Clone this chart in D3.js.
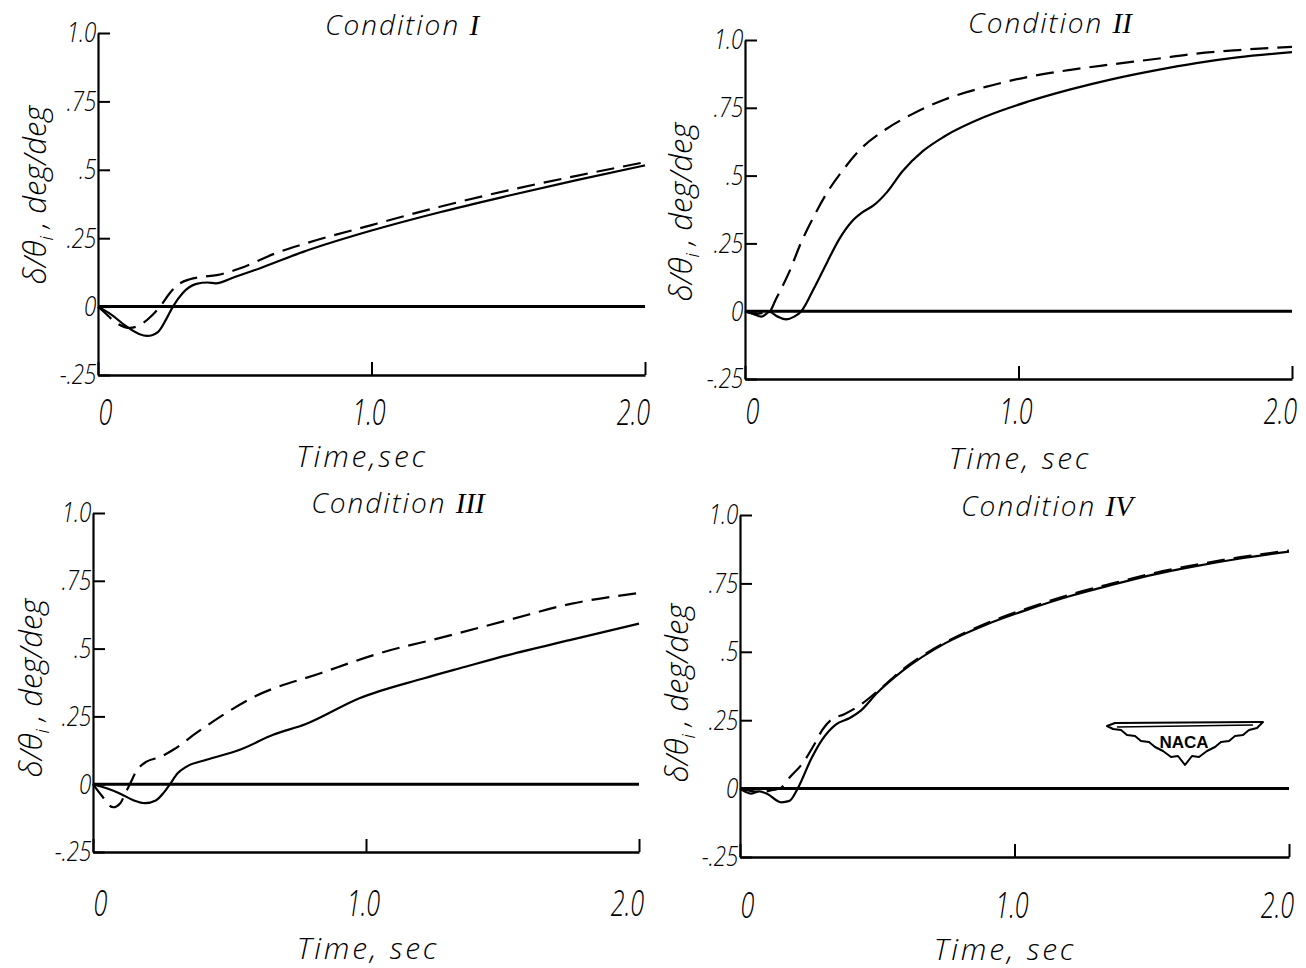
<!DOCTYPE html>
<html><head><meta charset="utf-8">
<script src="https://cdn.jsdelivr.net/npm/d3@7"></script>
<style>body{margin:0;background:#fff} svg{display:block}</style>
</head><body>
<svg id="chart" width="1306" height="968"></svg>
<script>
// ---------------- data ----------------
const xTickValues = [0, 1, 2];
const xTickLabels = ["0", "1.0", "2.0"];
const yTickValues = [1, 0.75, 0.5, 0.25, 0, -0.25];
const yTickLabels = ["1.0", ".75", ".5", ".25", "0", "-.25"];
const conditionNames = ["I", "II", "III", "IV"];
const timeLabels = ["Time,sec", "Time, sec", "Time, sec", "Time, sec"];
const yTitleMain = "δ/θ";
const yTitleSub = "i";
const yTitleRest = " , deg/deg";

// [time (sec), delta/theta_i (deg/deg)]
const cond1Solid = [[0,0],[0.05,-0.03],[0.1,-0.07],[0.15,-0.1],[0.18,-0.107],[0.22,-0.092],[0.25,-0.045],[0.274,0],[0.31,0.05],[0.36,0.083],[0.4,0.088],[0.43,0.085],[0.5,0.108],[0.6,0.143],[0.75,0.2],[1.0,0.278],[1.25,0.345],[1.5,0.405],[1.75,0.462],[2.0,0.516]];
const cond1Dashed = [[0,0],[0.02,-0.018],[0.068,-0.06],[0.117,-0.078],[0.165,-0.06],[0.2,-0.03],[0.227,0],[0.263,0.05],[0.3,0.085],[0.336,0.1],[0.373,0.108],[0.434,0.115],[0.52,0.14],[0.65,0.195],[0.75,0.228],[1.0,0.298],[1.25,0.365],[1.5,0.425],[1.75,0.478],[2.0,0.528]];
const cond2Solid = [[0,0],[0.03,-0.01],[0.06,-0.02],[0.09,-0.003],[0.12,-0.02],[0.15,-0.03],[0.18,-0.02],[0.206,0],[0.25,0.08],[0.3,0.18],[0.344,0.265],[0.39,0.33],[0.43,0.365],[0.47,0.39],[0.52,0.44],[0.575,0.515],[0.65,0.59],[0.73,0.645],[0.88,0.718],[1.035,0.773],[1.19,0.818],[1.34,0.855],[1.5,0.888],[1.65,0.915],[1.8,0.936],[2.0,0.955]];
const cond2Dashed = [[0,0],[0.04,-0.01],[0.07,-0.005],[0.09,0],[0.113,0.044],[0.161,0.143],[0.205,0.253],[0.252,0.35],[0.3,0.437],[0.358,0.52],[0.42,0.595],[0.514,0.67],[0.606,0.724],[0.728,0.78],[0.88,0.827],[1.035,0.864],[1.19,0.89],[1.34,0.91],[1.5,0.93],[1.65,0.95],[1.805,0.963],[2.0,0.975]];
const cond3Solid = [[0,0],[0.05,-0.015],[0.1,-0.035],[0.15,-0.06],[0.19,-0.07],[0.23,-0.06],[0.26,-0.03],[0.282,0],[0.31,0.04],[0.343,0.065],[0.416,0.09],[0.538,0.127],[0.66,0.182],[0.78,0.222],[0.976,0.317],[1.21,0.39],[1.36,0.432],[1.52,0.476],[1.75,0.532],[2.0,0.592]];
const cond3Dashed = [[0,0],[0.03,-0.04],[0.074,-0.085],[0.1,-0.07],[0.12,-0.03],[0.135,0],[0.16,0.05],[0.196,0.083],[0.245,0.1],[0.294,0.127],[0.38,0.19],[0.447,0.236],[0.59,0.322],[0.836,0.41],[1.05,0.483],[1.286,0.543],[1.52,0.605],[1.75,0.665],[2.0,0.705]];
const cond4Solid = [[0,0],[0.04,-0.018],[0.07,-0.01],[0.1,-0.02],[0.15,-0.05],[0.18,-0.045],[0.21,0],[0.26,0.11],[0.3,0.18],[0.35,0.235],[0.4,0.258],[0.44,0.285],[0.5,0.35],[0.592,0.43],[0.745,0.53],[0.898,0.6],[1.05,0.655],[1.2,0.703],[1.357,0.745],[1.51,0.783],[1.66,0.813],[1.817,0.84],[2.0,0.866]];
const cond4Dashed = [[0,0],[0.05,-0.01],[0.08,-0.012],[0.12,-0.005],[0.145,0],[0.18,0.04],[0.23,0.095],[0.27,0.16],[0.3,0.215],[0.33,0.25],[0.38,0.272],[0.43,0.3],[0.5,0.355],[0.592,0.435],[0.745,0.533],[0.898,0.604],[1.05,0.66],[1.2,0.708],[1.357,0.75],[1.51,0.788],[1.66,0.818],[1.817,0.845],[2.0,0.87]];

const solidSeries = [cond1Solid, cond2Solid, cond3Solid, cond4Solid];
const dashedSeries = [cond1Dashed, cond2Dashed, cond3Dashed, cond4Dashed];

// ---------------- layout ----------------
const layout = [
  {x0:98,  x1:645,  yTop:33,  yBot:375, titleX:402,  titleY:35,  yTitleX:35,  yTitleY:195, tickBase:425, timeX:362,  timeY:467},
  {x0:745, x1:1292, yTop:40,  yBot:379, titleX:1050, titleY:33,  yTitleX:681, yTitleY:212, tickBase:424, timeX:1020, timeY:469},
  {x0:93,  x1:639,  yTop:513, yBot:852, titleX:398,  titleY:513, yTitleX:31,  yTitleY:688, tickBase:916, timeX:368,  timeY:959},
  {x0:740, x1:1289, yTop:515, yBot:857, titleX:1047, titleY:516, yTitleX:677, yTitleY:693, tickBase:918, timeX:1005, timeY:960}
];

const FONT = "'Open Sans', 'DejaVu Sans', sans-serif";
const svg = d3.select("#chart");
const XS = 0.68; // horizontal squeeze of hand-lettered tick numerals
const labelShift = {0: 7, 1: -3, 2: -12};

layout.forEach((L, i) => {
  const x = d3.scaleLinear().domain([0, 2]).range([L.x0, L.x1]);
  const y = d3.scaleLinear().domain([-0.25, 1]).range([L.yBot, L.yTop]);
  const g = svg.append("g");

  // y axis
  const ya = g.append("g").attr("transform", `translate(${L.x0},0)`)
    .call(d3.axisLeft(y).tickValues(yTickValues).tickFormat((d, k) => yTickLabels[k])
      .tickSize(-12).tickSizeOuter(0).tickPadding(2));
  ya.select(".domain").attr("stroke", "#000").attr("stroke-width", 2.2);
  ya.selectAll(".tick line").attr("stroke", "#000").attr("stroke-width", 2);
  ya.selectAll(".tick text")
    .attr("font-family", FONT).attr("font-weight", 300).attr("font-style", "italic")
    .attr("font-size", 28).attr("fill", "#000")
    .attr("transform", "scale(0.8,1)");

  // x axis (at -0.25)
  const xa = g.append("g").attr("transform", `translate(0,${L.yBot})`)
    .call(d3.axisBottom(x).tickValues(xTickValues).tickFormat((d, k) => xTickLabels[k])
      .tickSize(-13).tickSizeOuter(0).tickPadding(10));
  xa.select(".domain").attr("stroke", "#000").attr("stroke-width", 2.4);
  xa.selectAll(".tick line").attr("stroke", "#000").attr("stroke-width", 2);
  xa.selectAll(".tick text")
    .attr("y", L.tickBase - L.yBot).attr("dy", null)
    .attr("x", d => labelShift[d] / XS)
    .attr("font-family", FONT).attr("font-weight", 300).attr("font-style", "italic")
    .attr("font-size", 37).attr("fill", "#000")
    .attr("transform", `scale(${XS},1)`);

  // zero line
  g.append("line")
    .attr("x1", x(0)).attr("x2", x(2)).attr("y1", y(0)).attr("y2", y(0))
    .attr("stroke", "#000").attr("stroke-width", 3);

  const line = d3.line().x(d => x(d[0])).y(d => y(d[1])).curve(d3.curveMonotoneX);

  g.append("path").datum(solidSeries[i]).attr("d", line)
    .attr("fill", "none").attr("stroke", "#000").attr("stroke-width", 2.2);
  g.append("path").datum(dashedSeries[i]).attr("d", line)
    .attr("fill", "none").attr("stroke", "#000").attr("stroke-width", 2.2)
    .attr("stroke-dasharray", "18,9");

  // title
  const t = g.append("text").attr("x", L.titleX).attr("y", L.titleY)
    .attr("text-anchor", "middle").attr("font-family", FONT).attr("font-weight", 300)
    .attr("font-style", "italic").attr("font-size", 28).attr("letter-spacing", 2).attr("fill", "#000");
  t.append("tspan").text("Condition ");
  t.append("tspan").attr("font-family", "'Liberation Serif', serif").attr("font-size", 29)
    .attr("font-weight", 400).attr("letter-spacing", 0).text(conditionNames[i]);

  // x title
  g.append("text").attr("x", L.timeX).attr("y", L.timeY).attr("text-anchor", "middle")
    .attr("font-family", FONT).attr("font-weight", 300).attr("font-style", "italic")
    .attr("font-size", 30).attr("letter-spacing", 2.8).attr("fill", "#000").text(timeLabels[i]);

  // y title
  const yt = g.append("text").attr("transform", `translate(${L.yTitleX},${L.yTitleY}) rotate(-90)`)
    .attr("text-anchor", "middle").attr("dy", "0.35em")
    .attr("font-family", FONT).attr("font-weight", 300).attr("font-style", "italic")
    .attr("font-size", 31).attr("fill", "#000");
  yt.append("tspan").text(yTitleMain);
  yt.append("tspan").attr("font-size", 19).attr("dy", 7).text(yTitleSub);
  yt.append("tspan").attr("dy", -7).text(yTitleRest);
});

// NACA logo (decoration, lower-right panel)
const logo = svg.append("g").attr("transform", "translate(1107,722)");
logo.append("path")
  .attr("d", "M0,4 L8,1 L150,0 L156,0 L150,6 L142,8 L136,13 L128,14 L122,19 L114,20 L108,25 L100,29 L92,35 L85,34 L78,43 L71,34 L64,35 L56,29 L48,25 L42,20 L34,19 L28,14 L20,13 L14,8 L6,7 Z")
  .attr("fill", "#fff").attr("stroke", "#000").attr("stroke-width", 2).attr("stroke-linejoin", "round");
logo.append("path").attr("d", "M10,5 L146,3").attr("stroke", "#000").attr("stroke-width", 1.5).attr("fill", "none");
logo.append("text").attr("x", 77).attr("y", 26).attr("text-anchor", "middle")
  .attr("font-family", "'Liberation Sans', Arial, sans-serif").attr("font-weight", 700)
  .attr("font-size", 17).attr("fill", "#000").text("NACA");
</script>
</body></html>
